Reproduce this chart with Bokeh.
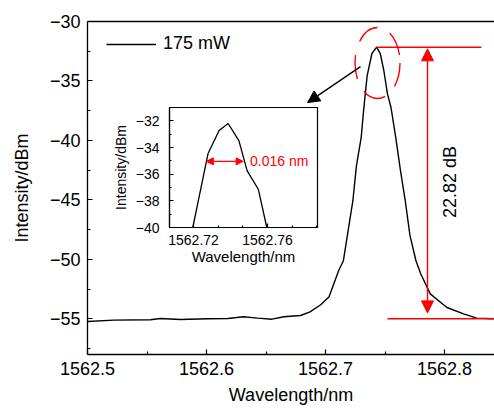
from bokeh.plotting import figure
from bokeh.models import Range1d, LinearAxis, FixedTicker, Arrow, NormalHead
from bokeh.layouts import column
from bokeh.embed import file_html
from bokeh.resources import INLINE
from bokeh.core.properties import value

# ---------------- data ----------------
wavelength = [1562.500, 1562.522, 1562.553, 1562.561, 1562.578, 1562.601, 1562.618,
              1562.631, 1562.643, 1562.655, 1562.665, 1562.679, 1562.687, 1562.696,
              1562.703, 1562.711, 1562.715, 1562.719, 1562.723, 1562.726, 1562.730,
              1562.732, 1562.735, 1562.739, 1562.743, 1562.746, 1562.749, 1562.752,
              1562.755, 1562.759, 1562.763, 1562.767, 1562.771, 1562.776, 1562.780,
              1562.788, 1562.802, 1562.816, 1562.827, 1562.841]
intensity = [-55.23, -55.11, -55.08, -54.97, -55.06, -55.00, -54.97,
             -54.83, -54.94, -55.03, -54.83, -54.72, -54.41, -53.82,
             -53.15, -50.96, -50.12, -47.59, -45.07, -42.12, -39.74,
             -37.49, -34.55, -32.69, -32.16, -32.69, -34.12, -36.06,
             -37.21, -39.74, -42.54, -45.07, -48.01, -50.12, -51.21,
             -52.90, -54.05, -54.58, -54.94, -55.00]

inset_wavelength = [1562.7196, 1562.7278, 1562.7338, 1562.7387, 1562.7445,
                    1562.7490, 1562.7550, 1562.7596]
inset_intensity = [-40.0, -34.47, -32.72, -32.2, -33.48, -35.75, -37.13, -40.0]

x_ticks = [1562.5, 1562.6, 1562.7, 1562.8]
x_tick_labels = ["1562.5", "1562.6", "1562.7", "1562.8"]
x_minor_ticks = [1562.55, 1562.65, 1562.75, 1562.85]
y_ticks = [-55, -50, -45, -40, -35, -30]
y_tick_labels = ["\u221255", "\u221250", "\u221245", "\u221240", "\u221235", "\u221230"]
y_minor_ticks = [-57.5, -52.5, -47.5, -42.5, -37.5, -32.5]

inset_x_ticks = [1562.72, 1562.76]
inset_x_tick_labels = ["1562.72", "1562.76"]
inset_x_minor_ticks = [1562.7067, 1562.7333, 1562.7467, 1562.7733, 1562.7867]
inset_y_ticks = [-40, -38, -36, -34, -32]
inset_y_tick_labels = ["\u221240", "\u221238", "\u221236", "\u221234", "\u221232"]
inset_y_minor_ticks = [-39, -37, -35, -33, -31]

legend_label = "175 mW"
peak_level = -32.16
floor_level = -55.0
peak_line_x = [1562.743, 1562.831]
floor_line_x = [1562.752, 1562.845]
contrast_arrow_x = 1562.7857
contrast_arrow_y = [-54.5, -32.3]
contrast_label = "22.82 dB"
contrast_label_pos = (1562.805, -43.5)
peak_circle = dict(x=1562.7437, y=-33.49, w=0.0378, h=5.98)
pointer_start = (1562.7294, -33.79)
pointer_end = (1562.6849, -36.82)

fwhm_x = [1562.7269, 1562.7468]
fwhm_level = -35.04
fwhm_label = "0.016 nm"
fwhm_label_pos = (1562.7505, -35.0)

FONT = "Liberation Sans"


def style_axis(ax, size, tick_in=5, minor_in=3, standoff=7):
    ax.axis_line_color = "black"
    ax.axis_line_width = 1.3
    ax.major_tick_in = tick_in
    ax.major_tick_out = 0
    ax.minor_tick_in = minor_in
    ax.minor_tick_out = 0
    ax.major_tick_line_color = "black"
    ax.minor_tick_line_color = "black"
    ax.major_tick_line_width = 1.2
    ax.minor_tick_line_width = 1.2
    ax.major_label_text_font = FONT
    ax.major_label_text_font_size = size
    ax.major_label_text_color = "black"
    ax.major_label_standoff = standoff
    ax.axis_label_text_font = FONT
    ax.axis_label_text_font_style = "normal"
    ax.axis_label_text_color = "black"


# ---------------- main figure ----------------
p = figure(width=494, height=409,
           x_range=Range1d(1562.5, 1562.842), y_range=Range1d(-58, -30),
           output_backend="svg", toolbar_location=None, frame_align=False,
           min_border_left=87, min_border_right=0, min_border_top=21,
           min_border_bottom=55)
p.outline_line_color = None
p.grid.visible = False
p.background_fill_color = "white"

p.xaxis.ticker = FixedTicker(ticks=x_ticks, minor_ticks=x_minor_ticks)
p.xaxis.major_label_overrides = {t: l for t, l in zip(x_ticks, x_tick_labels)}
p.yaxis.ticker = FixedTicker(ticks=y_ticks, minor_ticks=y_minor_ticks)
p.yaxis.major_label_overrides = {t: l for t, l in zip(y_ticks, y_tick_labels)}
style_axis(p.xaxis[0], "18px")
style_axis(p.yaxis[0], "18px")
p.yaxis.axis_label = "Intensity/dBm"
p.yaxis.axis_label_text_font_size = "18px"
p.yaxis.axis_label_standoff = 15
p.xaxis.axis_label = "Wavelength/nm"
p.xaxis.axis_label_text_font_size = "18px"
p.xaxis.axis_label_standoff = 7

top = LinearAxis(ticker=FixedTicker(ticks=[]), major_label_text_font_size="0px",
                 major_tick_line_color=None, minor_tick_line_color=None,
                 axis_line_color="black", axis_line_width=1.3)
p.add_layout(top, "above")

p.line(wavelength, intensity, line_color="black", line_width=1.4,
       legend_label=legend_label)
lg = p.legend[0]
lg.location = (19, 300)
lg.border_line_color = None
lg.background_fill_alpha = 0
lg.label_text_font = FONT
lg.label_text_font_size = "18px"
lg.label_text_color = "black"
lg.glyph_width = 50
lg.label_standoff = 7
lg.padding = 10

# contrast markers
p.line(peak_line_x, [peak_level, peak_level], line_color="red", line_width=1.4)
p.line(floor_line_x, [floor_level, floor_level], line_color="red", line_width=1.4)
p.add_layout(Arrow(start=NormalHead(size=12, fill_color="red", line_color="red"),
                   end=NormalHead(size=12, fill_color="red", line_color="red"),
                   x_start=contrast_arrow_x, y_start=contrast_arrow_y[0],
                   x_end=contrast_arrow_x, y_end=contrast_arrow_y[1],
                   line_color="red", line_width=1.4))
p.text(x=[contrast_label_pos[0]], y=[contrast_label_pos[1]], text=[contrast_label],
       angle=1.5708, text_align="center", text_baseline="middle",
       text_font=value(FONT), text_font_size="18px", text_color="black")
p.ellipse(x=[peak_circle["x"]], y=[peak_circle["y"]], width=[peak_circle["w"]],
          height=[peak_circle["h"]], fill_color=None, line_color="red",
          line_width=1.4, line_dash="24 14")
p.add_layout(Arrow(end=NormalHead(size=12, fill_color="black", line_color="black"),
                   x_start=pointer_start[0], y_start=pointer_start[1],
                   x_end=pointer_end[0], y_end=pointer_end[1],
                   line_color="black", line_width=1.4))

# ---------------- inset ----------------
ins = figure(width=214, height=169,
             x_range=Range1d(1562.707, 1562.787), y_range=Range1d(-40, -31),
             output_backend="svg", toolbar_location=None, frame_align=False,
             min_border_left=61, min_border_right=5, min_border_top=5,
             min_border_bottom=44,
             styles={"position": "absolute", "left": "108px", "top": "102px"})
ins.border_fill_color = None
ins.background_fill_color = "white"
ins.outline_line_color = "black"
ins.outline_line_width = 1.2
ins.grid.visible = False
ins.xaxis.ticker = FixedTicker(ticks=inset_x_ticks, minor_ticks=inset_x_minor_ticks)
ins.xaxis.major_label_overrides = {t: l for t, l in zip(inset_x_ticks, inset_x_tick_labels)}
ins.yaxis.ticker = FixedTicker(ticks=inset_y_ticks, minor_ticks=inset_y_minor_ticks)
ins.yaxis.major_label_overrides = {t: l for t, l in zip(inset_y_ticks, inset_y_tick_labels)}
style_axis(ins.xaxis[0], "14px", tick_in=4, minor_in=2, standoff=7)
style_axis(ins.yaxis[0], "14px", tick_in=4, minor_in=2, standoff=10)
ins.xaxis.axis_line_width = 1.2
ins.yaxis.axis_line_width = 1.2
ins.xaxis.axis_label = "Wavelength/nm"
ins.xaxis.axis_label_text_font_size = "15px"
ins.xaxis.axis_label_standoff = 0
ins.yaxis.axis_label = "Intensity/dBm"
ins.yaxis.axis_label_text_font_size = "14px"
ins.yaxis.axis_label_standoff = 4

ins.line(inset_wavelength, inset_intensity, line_color="black", line_width=1.3)
ins.add_layout(Arrow(start=NormalHead(size=7, fill_color="red", line_color="red"),
                     end=NormalHead(size=7, fill_color="red", line_color="red"),
                     x_start=fwhm_x[0], y_start=fwhm_level,
                     x_end=fwhm_x[1], y_end=fwhm_level,
                     line_color="red", line_width=1.3))
ins.text(x=[fwhm_label_pos[0]], y=[fwhm_label_pos[1]], text=[fwhm_label],
         text_align="left", text_baseline="middle", text_font=value(FONT),
         text_font_size="14px", text_color="red")

layout = column(p, ins, styles={"position": "relative"})
open("out.html", "w").write(file_html(layout, INLINE))
